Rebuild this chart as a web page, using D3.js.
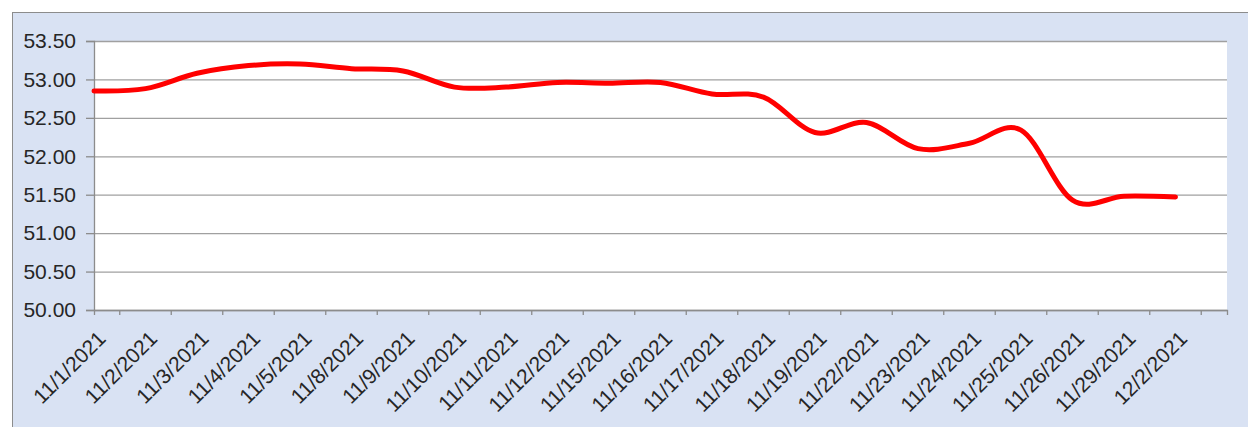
<!DOCTYPE html>
<html>
<head>
<meta charset="utf-8">
<script src="https://cdn.jsdelivr.net/npm/d3@7"></script>
<style>
  html, body { margin: 0; padding: 0; background: #ffffff; }
  svg { display: block; }
  .lbl { font-family: "Liberation Sans", Arial, sans-serif; fill: #262626; }
</style>
</head>
<body>
<div id="chart"></div>
<script>
// Daily closing values, November – early December 2021
const dates = ["11/1/2021", "11/2/2021", "11/3/2021", "11/4/2021", "11/5/2021", "11/8/2021",
  "11/9/2021", "11/10/2021", "11/11/2021", "11/12/2021", "11/15/2021", "11/16/2021",
  "11/17/2021", "11/18/2021", "11/19/2021", "11/22/2021", "11/23/2021", "11/24/2021",
  "11/25/2021", "11/26/2021", "11/29/2021", "12/2/2021"];
const values = [52.85, 52.88, 53.08, 53.18, 53.20, 53.14, 53.11, 52.90, 52.90, 52.96, 52.95, 52.96,
  52.81, 52.77, 52.31, 52.44, 52.10, 52.17, 52.34, 51.43, 51.48, 51.47];
const yTicks = [50.00, 50.50, 51.00, 51.50, 52.00, 52.50, 53.00, 53.50];

const W = 1248, H = 427;
const plot = { left: 94, right: 1227, top: 41, bottom: 310 };

const svg = d3.select("#chart").append("svg").attr("width", W).attr("height", H);

// Chart area background with its frame
svg.append("rect")
  .attr("x", 12.5).attr("y", 12.5)
  .attr("width", W + 10).attr("height", H + 10)
  .attr("fill", "#d9e2f3").attr("stroke", "#8c8c8c").attr("stroke-width", 1);

// Plot area
svg.append("rect")
  .attr("x", plot.left).attr("y", plot.top)
  .attr("width", plot.right - plot.left).attr("height", plot.bottom - plot.top)
  .attr("fill", "#ffffff");

const x = d3.scaleBand().domain(dates).range([plot.left, plot.right]).padding(0);
const y = d3.scaleLinear().domain([50, 53.5]).range([plot.bottom, plot.top]);

// Horizontal gridlines
svg.append("g")
  .attr("transform", `translate(${plot.left},0)`)
  .call(d3.axisLeft(y).tickValues(yTicks).tickSize(-(plot.right - plot.left)).tickFormat(""))
  .call(g => g.select(".domain").remove())
  .call(g => g.selectAll("line").attr("stroke", "#a0a0a0").attr("stroke-width", 1.3));

// Value axis
svg.append("g")
  .attr("transform", `translate(${plot.left},0)`)
  .call(d3.axisLeft(y).tickValues(yTicks).tickSize(8).tickPadding(10).tickFormat(d3.format(".2f")))
  .call(g => g.select(".domain").attr("stroke", "#8c8c8c").attr("stroke-width", 1.3))
  .call(g => g.selectAll("line").attr("stroke", "#8c8c8c").attr("stroke-width", 1.3))
  .call(g => g.selectAll("text").attr("class", "lbl").style("font-size", "21px"));

// Category axis: tick marks sit between the date points
svg.append("g")
  .attr("transform", `translate(0,${plot.bottom})`)
  .call(d3.axisBottom(x).tickSize(5).tickSizeOuter(5).tickFormat(""))
  .call(g => g.select(".domain").attr("stroke", "#8c8c8c").attr("stroke-width", 1.3))
  .call(g => g.selectAll("line").attr("stroke", "#8c8c8c").attr("stroke-width", 1.3));

// Rotated date labels, anchored at each point's position
svg.append("g")
  .selectAll("text")
  .data(dates)
  .join("text")
  .attr("class", "lbl")
  .attr("text-anchor", "end")
  .style("font-size", "21px")
  .attr("transform", d => `translate(${x(d) + 13},${plot.bottom + 30}) rotate(-45)`)
  .text(d => d);

// Series line
const line = d3.line()
  .x((d, i) => x(dates[i]))
  .y(d => y(d))
  .curve(d3.curveCatmullRom.alpha(0));

svg.append("path")
  .datum(values)
  .attr("fill", "none")
  .attr("stroke", "#ff0000")
  .attr("stroke-width", 5)
  .attr("stroke-linejoin", "round")
  .attr("stroke-linecap", "round")
  .attr("d", line);
</script>
</body>
</html>
